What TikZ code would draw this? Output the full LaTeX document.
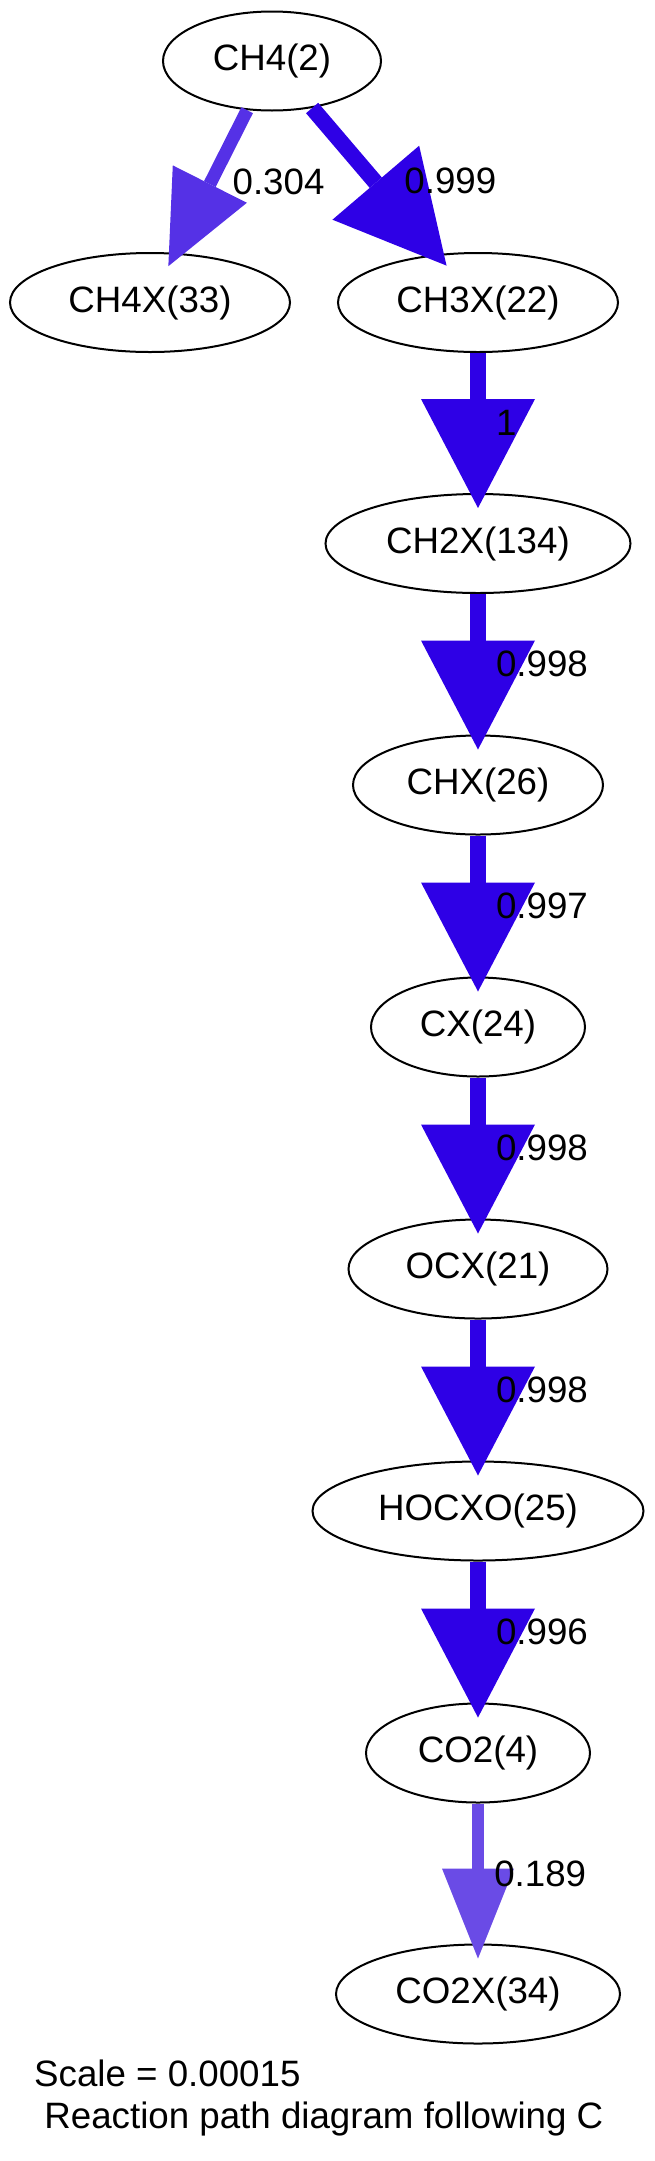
\documentclass[tikz,border=0pt]{standalone}
\usepackage{fontspec}
\setmainfont{Liberation Sans}
\usepackage{xcolor}
\usetikzlibrary{arrows.meta,shapes.geometric}

\definecolor{fluxfull}{RGB}{46,0,230}
\definecolor{fluxmid}{RGB}{85,49,230}
\definecolor{fluxlow}{RGB}{106,75,230}

\begin{document}
\begin{tikzpicture}[
  x=1pt, y=-1pt,
  species/.style={draw, ellipse, line width=2pt, inner sep=0pt, minimum height=99pt, font=\fontsize{36.7}{44}\selectfont},
  flux/.style={line width=16pt, draw=fluxfull, shorten >=-15pt, -{Triangle[length=109pt, width=114pt, line width=0pt]}},
  fluxmed/.style={line width=13pt, draw=fluxmid, shorten >=-15pt, -{Triangle[length=92pt, width=83pt, line width=0pt]}},
  fluxweak/.style={line width=12.5pt, draw=fluxlow, shorten >=-15pt, -{Triangle[length=90pt, width=72pt, line width=0pt]}},
  lbl/.style={anchor=west, inner sep=0pt, xshift=10pt, font=\fontsize{36.7}{44}\selectfont}
]
\useasboundingbox (0,0) rectangle (655,2161);

\node[species, minimum width=218pt] (ch4) at (272, 61) {CH4(2)};
\node[species, minimum width=280pt] (ch4x) at (150, 302.5) {CH4X(33)};
\node[species, minimum width=280pt] (ch3x) at (478, 302.5) {CH3X(22)};
\node[species, minimum width=305pt] (ch2x) at (478, 543.5) {CH2X(134)};
\node[species, minimum width=250pt] (chx) at (478, 785) {CHX(26)};
\node[species, minimum width=214pt] (cx) at (478, 1027) {CX(24)};
\node[species, minimum width=259pt] (ocx) at (478, 1269) {OCX(21)};
\node[species, minimum width=331pt] (hocxo) at (478, 1511) {HOCXO(25)};
\node[species, minimum width=224pt] (co2) at (478, 1753) {CO2(4)};
\node[species, minimum width=284pt] (co2x) at (478, 1994) {CO2X(34)};

\draw[fluxmed] (ch4) -- node[lbl, xshift=5pt] {0.304} (ch4x);
\draw[flux] (ch4) -- node[lbl, xshift=12pt] {0.999} (ch3x);
\draw[flux] (ch3x) -- node[lbl] {1} (ch2x);
\draw[flux] (ch2x) -- node[lbl] {0.998} (chx);
\draw[flux] (chx) -- node[lbl] {0.997} (cx);
\draw[flux] (cx) -- node[lbl] {0.998} (ocx);
\draw[flux] (ocx) -- node[lbl] {0.998} (hocxo);
\draw[flux] (hocxo) -- node[lbl] {0.996} (co2);
\draw[fluxweak] (co2) -- node[lbl] {0.189} (co2x);

\node[anchor=north west, inner sep=0pt, align=left, font=\fontsize{36.7}{41.5}\selectfont] (caption) at (34, 2060) {Scale = 0.00015\\\hspace*{0.278em}Reaction path diagram following C};
\end{tikzpicture}
\end{document}
